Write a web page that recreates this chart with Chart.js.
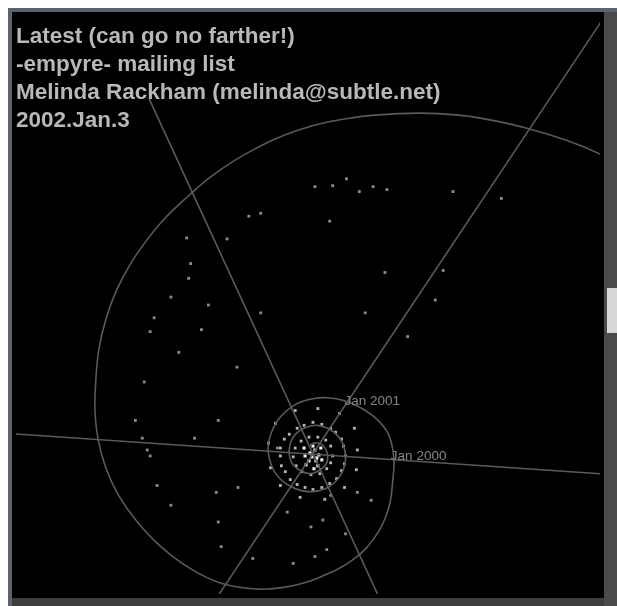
<!DOCTYPE html>
<html>
<head>
<meta charset="utf-8">
<title>-empyre- mailing list spiral</title>
<script src="https://cdn.jsdelivr.net/npm/chart.js@4/dist/chart.umd.min.js"></script>
<style>
  html, body { margin: 0; padding: 0; background: #ffffff; }
  #frame { position: absolute; left: 8px; top: 8px; width: 609px; height: 598px; background: #5a646e; }
  #wrap { position: absolute; left: 12px; top: 12px; width: 592px; height: 586px; background: #000; }
  #spiral { display: block; background: #000; }
  #rstrip { position: absolute; left: 604px; top: 12px; width: 13px; height: 594px; background: #4a4a4a; }
  #thumb { position: absolute; left: 607px; top: 288px; width: 10px; height: 45px; background: #d8d8d8; }
  #bstrip { position: absolute; left: 12px; top: 598px; width: 592px; height: 8px; background: #3e3e3e; }
  #header { position: absolute; left: 16px; top: 22px; font: bold 22.5px "Liberation Sans", Arial, sans-serif;
            line-height: 28px; color: #b8b8b8; white-space: pre; pointer-events: none; }
</style>
</head>
<body>
<div id="frame"></div>
<div id="wrap"><canvas id="spiral" width="592" height="586"></canvas></div>
<div id="rstrip"></div>
<div id="thumb"></div>
<div id="bstrip"></div>
<div id="header"></div>
<script>
// Header text
const headerLines = [
  'Latest (can go no farther!)',
  '-empyre- mailing list',
  'Melinda Rackham (melinda@subtle.net)',
  '2002.Jan.3'
];

// Time spiral path (centre of the spiral at 0,0), inner end first
const spiralX = [-3, 2, 8, 13, 15, 13, 6, -3, -14, -22, -24, -20, -9, 5, 20, 30, 33, 27, 13, -7,
  -26, -39, -45, -44, -35, -18, 0, 15, 32, 48, 65, 77, 82, 81, 77, 65, 41, 2, -28, -57,
  -93, -123, -153, -178, -197, -210, -218, -221, -220, -217, -210, -200, -186, -169, -150, -128, -101, -63, -13, 41, 87,
  127, 167, 214, 257, 291, 327];
const spiralY = [9, 11, 10, 5, -3, -11, -17, -20, -16, -8, 4, 17, 26, 29, 23, 11, -6, -23, -35, -38,
  -31, -18, 0, 16, 35, 50, 56, 57, 54, 47, 35, 19, -4, -26, -54, -81, -107, -127, -135, -137,
  -131, -117, -95, -69, -42, -14, 16, 46, 76, 106, 136, 164, 191, 216, 239, 260, 283, 307, 329, 341, 345,
  345, 341, 331, 318, 304, 284];

// Spokes through the centre
const spokeStartX = [-166, 304, -313];
const spokeStartY = [360, 456, 21];
const spokeEndX = [71, -103, 304];
const spokeEndY = [-154, -154, -21];

// Earlier messages, scattered along the outer turns
const olderX = [2, 20, 34, 47, 61, 75, 142, 191, -65, -53, -87, -128, -124, -126, -144, -106, -161, -165, 73, 53, 132, -136, -77, -53, 96,
  -180, -173, -168, -165, -120, -96, -171, -158, -76, -36, -144, -98, -96, -26, 18, 45, 59, 10, -2, -93, -61, -20, 14, 2, 33, 17, 124, -113];
const olderY = [271, 272, 279, 266, 271, 268, 266, 259, 241, 244, 218, 219, 193, 178, 159, 151, 138, 124, 184, 143, 186, 103, 88, 143, 119,
  34, 16, 4, -2, 16, 34, 73, -32, -34, 6, -52, -39, -69, -59, -42, -39, -47, -67, -74, -94, -106, -111, -97, -104, -81, 236, 156, 126];

// Recent messages, packed into the inner turns
const recentX = [33, 31, 29, 23, 18, 9, 0, -9, -16, -24, -29, -33, -33, -32, -28, -23, -16, -8, 0, 9, 17, 24, 29, 32,
  45, 42, 27, 5, -18, -38, -45, -43, -33, -13, 12, 32, 44,
  20, 18, 13, 5, -4, -12, -18, -20, -17, -11, -2, 7, 14, 18];
const recentY = [-2, 8, 15, 22, 26, 30, 32, 29, 26, 20, 15, 6, -2, -12, -18, -26, -31, -34, -36, -34, -30, -25, -17, -10,
  4, 26, 41, 46, 44, 31, 11, -14, -32, -44, -46, -34, -16,
  -2, 8, 14, 17, 17, 13, 6, -3, -12, -18, -21, -20, -15, -9];

// Latest few days, at the very centre
const latestX = [-3, 2, 6, 3, -4, -8, -1, 5, -7, 8, -9, 0, 9, 1, 4];
const latestY = [1, 4, -1, -7, -7, -2, -3, -12, -11, 6, 6, 8, -6, -15, -4];

// Year markers on the spiral
const yearNames = ['Jan 2001', 'Jan 2000'];
const yearX = [32, 79];
const yearY = [53, -2];

document.getElementById('header').textContent = headerLines.join('\n');

const pts = (xs, ys) => xs.map((x, i) => ({ x, y: ys[i] }));

const spokes = spokeStartX.map((x, i) => ({
  data: [{ x, y: spokeStartY[i] }, { x: spokeEndX[i], y: spokeEndY[i] }],
  showLine: true, borderColor: '#5a5a5a', borderWidth: 1.6, pointRadius: 0
}));

const yearLabelPlugin = {
  id: 'yearLabels',
  afterDatasetsDraw(chart) {
    const { ctx, scales } = chart;
    ctx.save();
    ctx.font = '13.5px "Liberation Sans", Arial, sans-serif';
    ctx.fillStyle = '#858585';
    ctx.textBaseline = 'middle';
    ctx.textAlign = 'left';
    yearNames.forEach((name, i) => {
      ctx.fillText(name, scales.x.getPixelForValue(yearX[i]), scales.y.getPixelForValue(yearY[i]));
    });
    ctx.restore();
  }
};

new Chart(document.getElementById('spiral'), {
  type: 'scatter',
  data: {
    datasets: [
      ...spokes,
      {
        data: pts(spiralX, spiralY), showLine: true, tension: 0.4,
        borderColor: '#5a5a5a', borderWidth: 1.6, pointRadius: 0
      },
      { data: pts(olderX, olderY), pointStyle: 'rect', pointRadius: 2, borderWidth: 0, backgroundColor: '#8a8a8a' },
      { data: pts(recentX, recentY), pointStyle: 'rect', pointRadius: 2, borderWidth: 0, backgroundColor: '#b4b4b4' },
      { data: pts(latestX, latestY), pointStyle: 'rect', pointRadius: 2.2, borderWidth: 0, backgroundColor: '#eeeeee' }
    ]
  },
  options: {
    responsive: false,
    animation: false,
    layout: { padding: 0 },
    elements: { line: { capBezierPoints: false } },
    plugins: { legend: { display: false }, tooltip: { enabled: false } },
    scales: {
      x: { type: 'linear', min: -301, max: 291, display: false },
      y: { type: 'linear', min: -142, max: 444, display: false }
    }
  },
  plugins: [yearLabelPlugin]
});
</script>
</body>
</html>
